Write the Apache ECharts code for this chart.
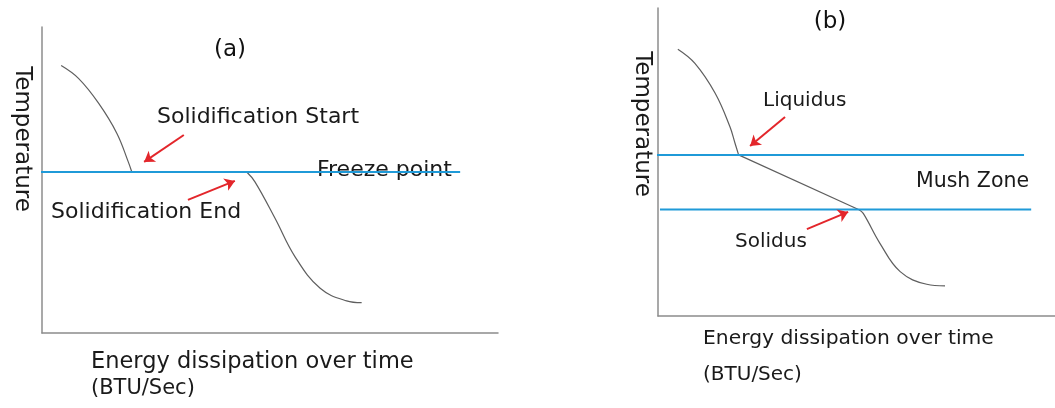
<!DOCTYPE html>
<html>
<head>
<meta charset="utf-8">
<script src="https://cdn.jsdelivr.net/npm/echarts@6/dist/echarts.min.js"></script>
<style>
  html, body { margin: 0; padding: 0; background: #ffffff; }
  #chart { width: 1055px; height: 408px; }
</style>
</head>
<body>
<div id="chart"></div>
<script>
// Cooling curves, both panels on a normalised 0–100 scale (x: energy dissipated, y: temperature)

// (a) pure metal: cools, holds at the freeze point, cools again
const aLiquidX = [4.2, 8.0, 12.4, 16.4, 18.9, 19.7];
const aLiquidY = [87.4, 83.2, 75.1, 65.3, 56.0, 52.6];
const aHoldX   = [19.7, 44.9];
const aHoldY   = [52.6, 52.6];
const aSolidX  = [44.9, 46.7, 51.1, 55.5, 61.0, 66.8, 70.1];
const aSolidY  = [52.6, 49.4, 37.5, 24.9, 14.6, 10.5, 9.9];
const aFreezeX = [-1.5, 91.7];
const aFreezeY = 52.6;
// arrows: [fromX, fromY, toX, toY]
const aArrowStart = [31.1, 64.7, 22.4, 55.9];
const aArrowEnd   = [32.0, 43.5, 42.3, 49.7];

// (b) alloy: cools, passes through the mush zone, cools again
const bLiquidX = [5.0, 9.3, 14.4, 18.1, 19.4, 20.3];
const bLiquidY = [86.6, 82.0, 72.3, 61.5, 56.1, 52.3];
const bMushX   = [20.3, 50.5];
const bMushY   = [52.3, 34.6];
const bSolidX  = [50.5, 51.7, 55.9, 61.0, 67.7, 72.3];
const bSolidY  = [34.6, 33.3, 23.6, 14.4, 10.3, 9.8];
const bLiquidusX = [-1.3, 92.2];
const bLiquidusY = 52.3;
const bSolidusX  = [0.5, 94.0];
const bSolidusY  = 34.6;
const bArrowLiquidus = [32.0, 64.6, 23.2, 55.2];
const bArrowSolidus  = [37.5, 28.2, 47.9, 33.8];

const pairs = (xs, ys) => xs.map((x, i) => [x, Array.isArray(ys) ? ys[i] : ys]);

const CURVE = '#5e5e5e';
const BLUE = '#1f9ad8';
const RED = '#e3262b';
const AXIS = '#8c8c8c';
const TEXT = '#1a1a1a';
const FONT = '"DejaVu Sans", sans-serif';

function axisPair(idx) {
  const common = {
    type: 'value', min: 0, max: 100, gridIndex: idx,
    axisTick: { show: false }, axisLabel: { show: false }, splitLine: { show: false },
    axisLine: { show: true, onZero: false, lineStyle: { color: AXIS, width: 1.5 } }
  };
  return { x: Object.assign({}, common), y: Object.assign({}, common) };
}
const ax0 = axisPair(0), ax1 = axisPair(1);

function curve(idx, xs, ys, smooth) {
  return {
    type: 'line', xAxisIndex: idx, yAxisIndex: idx, data: pairs(xs, ys),
    smooth: smooth, showSymbol: false, silent: true, clip: false, z: 2,
    lineStyle: { color: CURVE, width: 1.2 }
  };
}
function level(idx, xs, y) {
  return {
    type: 'line', xAxisIndex: idx, yAxisIndex: idx, data: pairs(xs, y),
    showSymbol: false, silent: true, clip: false, z: 3,
    lineStyle: { color: BLUE, width: 2 }
  };
}
function arrow(idx, a) {
  return {
    type: 'lines', coordinateSystem: 'cartesian2d', xAxisIndex: idx, yAxisIndex: idx,
    symbol: ['none', 'arrow'], symbolSize: 10, silent: true, z: 4,
    lineStyle: { color: RED, width: 2, opacity: 1 },
    data: [{ coords: [[a[0], a[1]], [a[2], a[3]]] }]
  };
}

function txt(x, y, text, size, opts) {
  return Object.assign({
    type: 'text', x: x, y: y, silent: true,
    style: Object.assign({ text: text, font: size + 'px ' + FONT, fill: TEXT, align: 'left', verticalAlign: 'middle' },
      (opts && opts.style) || {})
  }, opts && opts.rotation !== undefined ? { rotation: opts.rotation } : {});
}

const chart = echarts.init(document.getElementById('chart'), null, { renderer: 'canvas' });
chart.setOption({
  backgroundColor: '#ffffff',
  animation: false,
  grid: [
    { left: 42, top: 27, width: 456, height: 306 },
    { left: 658, top: 8, width: 397, height: 308 }
  ],
  xAxis: [ax0.x, ax1.x],
  yAxis: [ax0.y, ax1.y],
  series: [
    curve(0, aLiquidX, aLiquidY, 0.4),
    curve(0, aHoldX, aHoldY, false),
    curve(0, aSolidX, aSolidY, 0.4),
    level(0, aFreezeX, aFreezeY),
    arrow(0, aArrowStart),
    arrow(0, aArrowEnd),

    curve(1, bLiquidX, bLiquidY, 0.4),
    curve(1, bMushX, bMushY, false),
    curve(1, bSolidX, bSolidY, 0.4),
    level(1, bLiquidusX, bLiquidusY),
    level(1, bSolidusX, bSolidusY),
    arrow(1, bArrowLiquidus),
    arrow(1, bArrowSolidus)
  ],
  graphic: [
    // panel (a)
    txt(230, 50, '(a)', 23, { style: { align: 'center', fill: '#111' } }),
    txt(22, 139, 'Temperature', 23, { rotation: -Math.PI / 2, style: { align: 'center' } }),
    txt(157, 117, 'Solidification Start', 22),
    txt(317, 170, 'Freeze point', 22),
    txt(51, 212, 'Solidification End', 22),
    txt(91, 362, 'Energy dissipation over time', 22.5),
    txt(91, 389, '(BTU/Sec)', 21),
    // panel (b)
    txt(830, 22, '(b)', 23, { style: { align: 'center', fill: '#111' } }),
    txt(642, 124, 'Temperature', 23, { rotation: -Math.PI / 2, style: { align: 'center' } }),
    txt(763, 101, 'Liquidus', 20),
    txt(916, 182, 'Mush Zone', 20.5),
    txt(735, 242, 'Solidus', 20),
    txt(703, 339, 'Energy dissipation over time', 20.3),
    txt(703, 375, '(BTU/Sec)', 20)
  ]
});
</script>
</body>
</html>
